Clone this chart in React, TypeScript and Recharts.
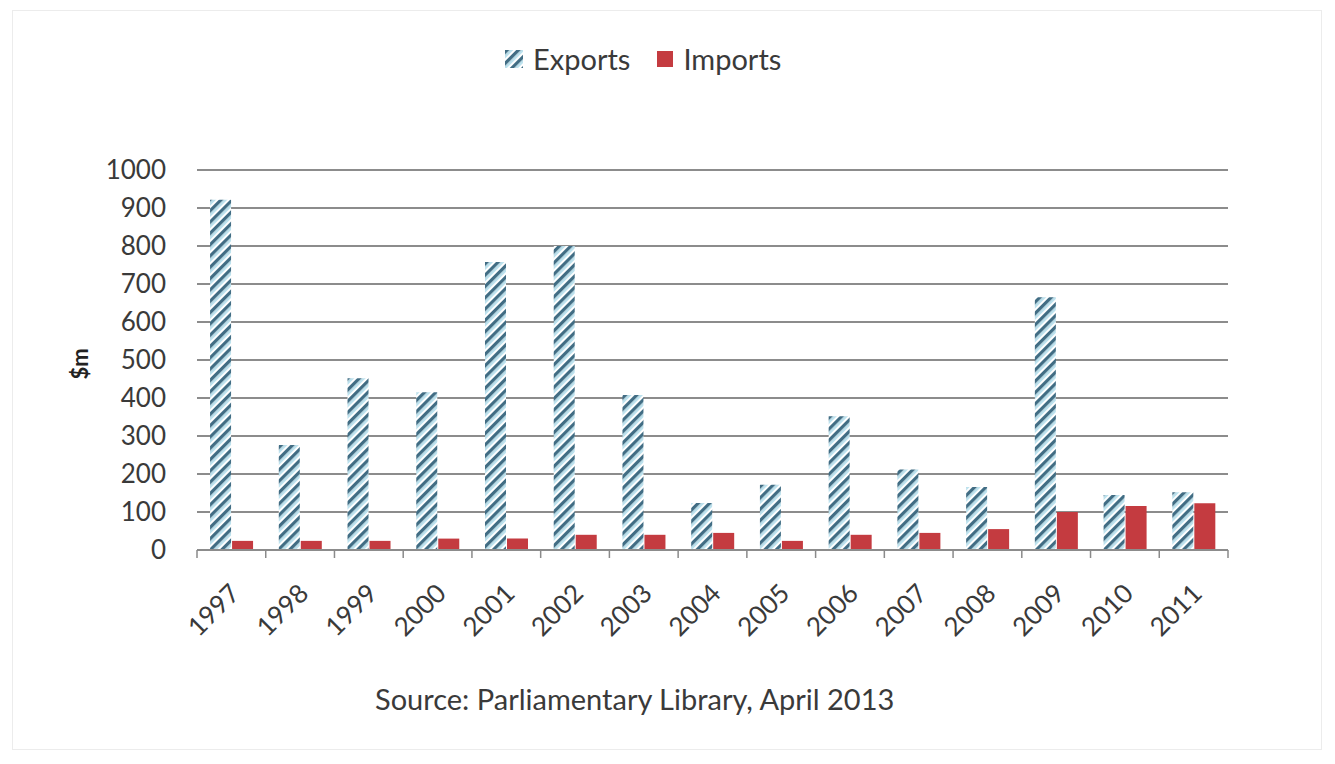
import React from 'react';
import { BarChart, Bar, XAxis, YAxis, CartesianGrid } from 'recharts';

const years = ['1997', '1998', '1999', '2000', '2001', '2002', '2003', '2004', '2005', '2006', '2007', '2008', '2009', '2010', '2011'];
const exportsM = [922, 276, 452, 415, 758, 800, 408, 124, 172, 352, 212, 166, 665, 145, 152];
const importsM = [24, 24, 24, 30, 30, 40, 40, 45, 24, 40, 45, 55, 100, 116, 123];
const yTicks = [0, 100, 200, 300, 400, 500, 600, 700, 800, 900, 1000];

const data = years.map((year, i) => ({ year, exports: exportsM[i], imports: importsM[i] }));

const FONT = 'Lato, "Open Sans", sans-serif';
const TEXT = '#3a3a3a';
const RED = '#c43b40';
const BAND = 1031 / 15;

// Excel-style ticks sit on the category boundaries, not the centres
const XTick = (props: any) => {
  const { x, y, payload, index } = props;
  return (
    <g>
      <line x1={x - BAND / 2} y1={y - 8} x2={x - BAND / 2} y2={y} stroke="#8a8a8a" strokeWidth={1.5} />
      {index === years.length - 1 && (
        <line x1={x + BAND / 2} y1={y - 8} x2={x + BAND / 2} y2={y} stroke="#8a8a8a" strokeWidth={1.5} />
      )}
      <text
        x={x + 10}
        y={y + 37}
        transform={`rotate(-45 ${x + 10} ${y + 37})`}
        textAnchor="end"
        fill={TEXT}
        fontSize={26}
        fontFamily={FONT}
      >
        {payload.value}
      </text>
    </g>
  );
};

export default function App() {
  return (
    <div style={{ position: 'absolute', left: 0, top: 0, width: 1335, height: 764, background: '#fff' }}>
      <div style={{ position: 'absolute', left: 12, top: 10, width: 1308, height: 738, border: '1px solid #ececec' }} />
      <BarChart
        width={1335}
        height={764}
        data={data}
        margin={{ top: 170, right: 107, bottom: 134, left: 40 }}
        barCategoryGap="19%"
        barGap={1}
      >
        <defs>
          <pattern id="hatch" patternUnits="userSpaceOnUse" width={8} height={8} patternTransform="rotate(45)">
            <rect x={0} y={0} width={8} height={8} fill="#ffffff" />
            <rect x={0} y={0} width={3.5} height={8} fill="#416d84" />
            <rect x={3.5} y={0} width={2.5} height={8} fill="#bde2ee" />
          </pattern>
        </defs>
        <CartesianGrid vertical={false} stroke="#8c8c8c" strokeWidth={1.8} />
        <XAxis
          dataKey="year"
          height={80}
          stroke="#8c8c8c"
          strokeWidth={1.8}
          tickLine={false}
          interval={0}
          tick={<XTick />}
        />
        <YAxis
          width={157}
          domain={[0, 1000]}
          ticks={yTicks}
          interval={0}
          axisLine={false}
          tickLine={false}
          tick={{ fill: TEXT, fontSize: 26, fontFamily: FONT }}
          tickMargin={25}
        />
        <Bar dataKey="exports" name="Exports" fill="url(#hatch)" isAnimationActive={false} />
        <Bar dataKey="imports" name="Imports" fill={RED} isAnimationActive={false} />
      </BarChart>
      <div
        style={{
          position: 'absolute',
          left: 40,
          top: 350,
          width: 80,
          height: 28,
          lineHeight: '28px',
          textAlign: 'center',
          transform: 'rotate(-90deg)',
          fontFamily: FONT,
          fontSize: 22,
          fontWeight: 700,
          color: '#222',
        }}
      >
        $m
      </div>
      <div
        style={{
          position: 'absolute',
          left: 505,
          top: 41,
          display: 'flex',
          alignItems: 'center',
          fontFamily: FONT,
          fontSize: 29,
          color: TEXT,
          whiteSpace: 'nowrap',
        }}
      >
        <svg width={18} height={18} style={{ marginRight: 10 }}>
          <rect x={0} y={0} width={18} height={18} fill="url(#hatch)" />
        </svg>
        <span style={{ marginRight: 27 }}>Exports</span>
        <svg width={16} height={16} style={{ marginRight: 10 }}>
          <rect x={0} y={0} width={16} height={16} fill={RED} />
        </svg>
        <span>Imports</span>
      </div>
      <div
        style={{
          position: 'absolute',
          left: 375,
          top: 681,
          fontFamily: FONT,
          fontSize: 29,
          color: TEXT,
          whiteSpace: 'nowrap',
        }}
      >
        Source: Parliamentary Library, April 2013
      </div>
    </div>
  );
}
